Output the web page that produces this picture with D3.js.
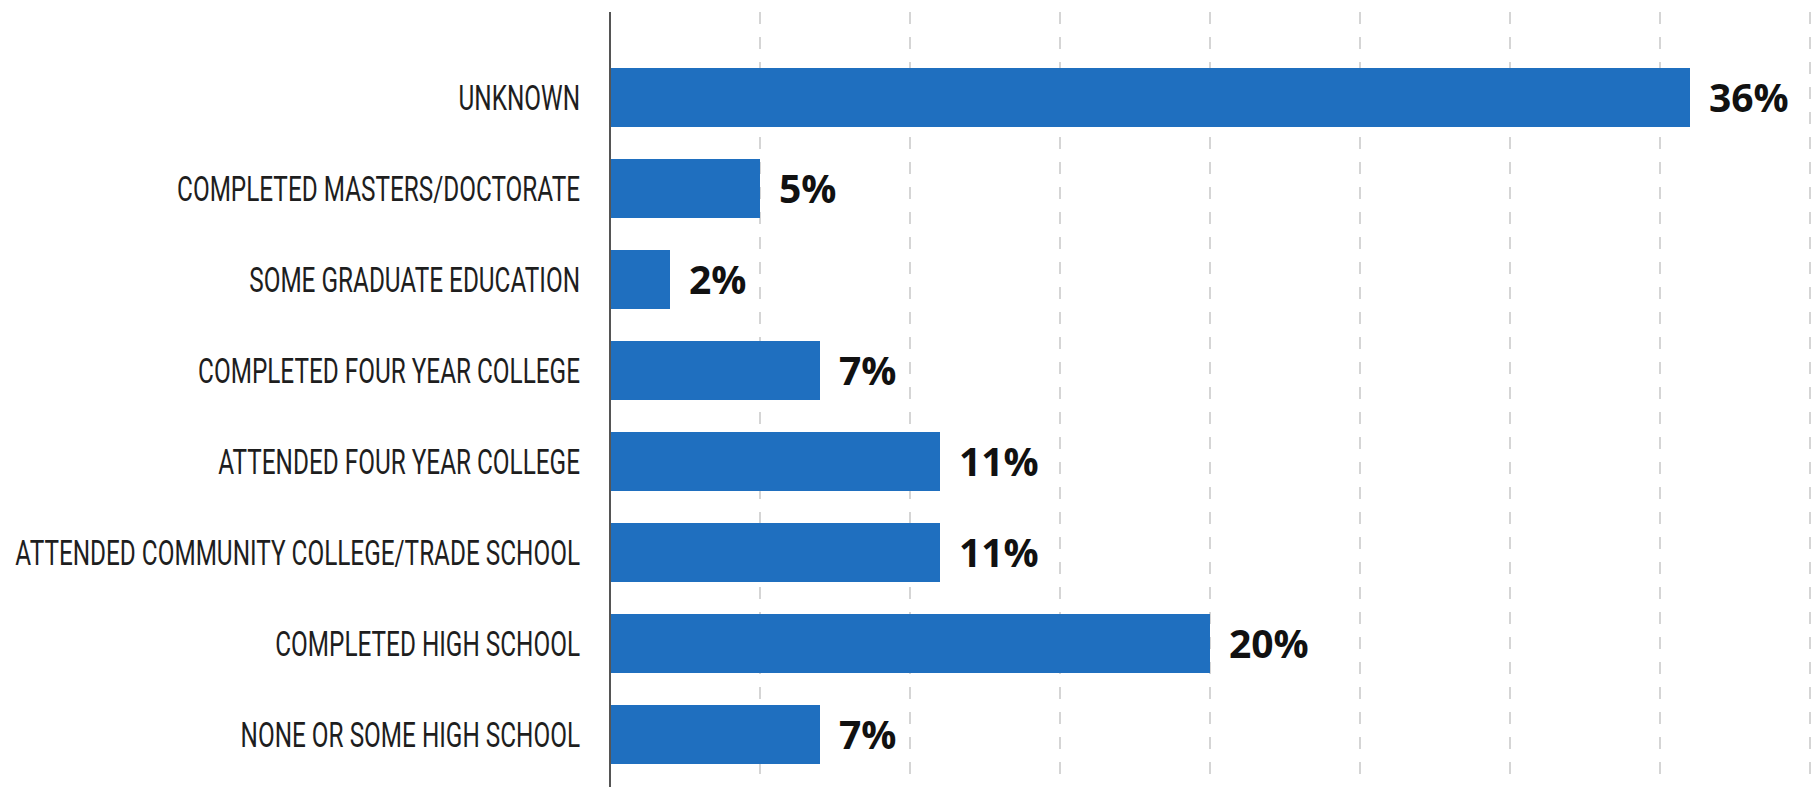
<!DOCTYPE html>
<html>
<head>
<meta charset="utf-8">
<script src="https://cdn.jsdelivr.net/npm/d3@7/dist/d3.min.js"></script>
<style>
  html, body { margin: 0; padding: 0; background: #fff; }
  svg { display: block; }
</style>
</head>
<body>
<svg id="chart" width="1819" height="787"></svg>
<script>
const categories = [
  "UNKNOWN",
  "COMPLETED MASTERS/DOCTORATE",
  "SOME GRADUATE EDUCATION",
  "COMPLETED FOUR YEAR COLLEGE",
  "ATTENDED FOUR YEAR COLLEGE",
  "ATTENDED COMMUNITY COLLEGE/TRADE SCHOOL",
  "COMPLETED HIGH SCHOOL",
  "NONE OR SOME HIGH SCHOOL"
];
const values = [36, 5, 2, 7, 11, 11, 20, 7];
const valueLabels = ["36%", "5%", "2%", "7%", "11%", "11%", "20%", "7%"];
const gridTicks = [5, 10, 15, 20, 25, 30, 35, 40];

const W = 1819, H = 787;
const svg = d3.select("#chart");

const x = d3.scaleLinear().domain([0, 40]).range([610, 1810]);
const y = d3.scaleBand().domain(categories).range([52, 780])
  .paddingInner(32 / 91).paddingOuter(16 / 91);

// gridlines
svg.append("g").selectAll("line").data(gridTicks).join("line")
  .attr("x1", d => x(d)).attr("x2", d => x(d))
  .attr("y1", 12).attr("y2", H)
  .attr("stroke", "#c8c8c8").attr("stroke-width", 1.5)
  .attr("stroke-dasharray", "12,13");

// bars
svg.append("g").selectAll("rect").data(values).join("rect")
  .attr("x", x(0))
  .attr("y", (d, i) => y(categories[i]))
  .attr("width", d => x(d) - x(0))
  .attr("height", y.bandwidth())
  .attr("fill", "#1f6fbf");

// axis line
svg.append("line")
  .attr("x1", x(0)).attr("x2", x(0)).attr("y1", 12).attr("y2", H)
  .attr("stroke", "#555").attr("stroke-width", 2);

// category labels (condensed by horizontal scaling)
const labels = svg.append("g").selectAll("text").data(categories).join("text")
  .attr("x", 0).attr("y", 0)
  .attr("dy", "0.36em")
  .attr("text-anchor", "end")
  .attr("font-family", "Roboto, 'Noto Sans', sans-serif")
  .attr("font-size", 35)
  .attr("fill", "#1e1e1e")
  .text(d => d);
let maxLen = 0;
labels.each(function() { maxLen = Math.max(maxLen, this.getComputedTextLength()); });
const sx = 565 / maxLen;
labels.attr("transform", d => `translate(580,${y(d) + y.bandwidth() / 2}) scale(${sx},1)`);

// value labels
svg.append("g").selectAll("text").data(values).join("text")
  .attr("x", d => x(d) + 19)
  .attr("y", (d, i) => y(categories[i]) + y.bandwidth() / 2)
  .attr("dy", "0.36em")
  .attr("font-family", "'Open Sans', sans-serif")
  .attr("font-weight", 700)
  .attr("font-size", 39)
  .attr("fill", "#111")
  .text((d, i) => valueLabels[i]);
</script>
</body>
</html>
